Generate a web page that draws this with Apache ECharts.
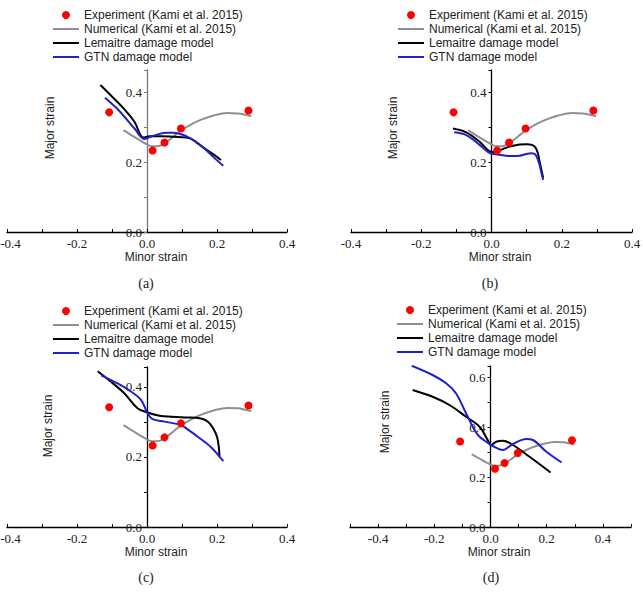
<!DOCTYPE html>
<html>
<head>
<meta charset="utf-8">
<script src="https://cdn.jsdelivr.net/npm/echarts@6/dist/echarts.min.js"></script>
<style>
  html, body { margin: 0; padding: 0; background: #fff; }
  #main { width: 643px; height: 592px; }
</style>
</head>
<body>
<div id="main"></div>
<script>
// series names (legend)
let seriesNames = [
    "Experiment (Kami et al. 2015)",
    "Numerical (Kami et al. 2015)",
    "Lemaitre damage model",
    "GTN damage model"
];
let panelLabels = ["(a)", "(b)", "(c)", "(d)"];

// experiment points (same in all panels)
let experiment = [[-0.108, 0.342], [0.016, 0.233], [0.05, 0.256], [0.097, 0.296], [0.29, 0.347]];

// numerical curve from Kami et al. (same in all panels)
let numerical = [
    [-0.067, 0.291], [-0.045, 0.277], [-0.027, 0.266], [-0.005, 0.253], [0.016, 0.245],
    [0.035, 0.246], [0.055, 0.257], [0.078, 0.275], [0.097, 0.29], [0.125, 0.307],
    [0.155, 0.321], [0.19, 0.333], [0.23, 0.34], [0.26, 0.339], [0.28, 0.335], [0.298, 0.331]
];

// (a)
let lemaitreA = [
    [-0.133, 0.42], [-0.103, 0.39], [-0.065, 0.351], [-0.036, 0.315], [-0.01, 0.27],
    [0.007, 0.274], [0.04, 0.274], [0.078, 0.272], [0.11, 0.27], [0.125, 0.267],
    [0.14, 0.257], [0.164, 0.239], [0.19, 0.222], [0.211, 0.206]
];
let gtnA = [
    [-0.12, 0.384], [-0.09, 0.357], [-0.065, 0.33], [-0.035, 0.295], [-0.008, 0.266],
    [0.01, 0.272], [0.031, 0.279], [0.055, 0.284], [0.075, 0.284], [0.095, 0.28],
    [0.116, 0.272], [0.14, 0.258], [0.164, 0.239], [0.19, 0.214], [0.218, 0.189]
];
// (b)
let lemaitreB = [
    [-0.11, 0.296], [-0.072, 0.285], [-0.034, 0.258], [-0.006, 0.231], [0.009, 0.228],
    [0.03, 0.236], [0.051, 0.244], [0.08, 0.25], [0.1, 0.251], [0.115, 0.249],
    [0.125, 0.242], [0.132, 0.225], [0.137, 0.201], [0.142, 0.178], [0.147, 0.155]
];
let gtnB = [
    [-0.106, 0.285], [-0.072, 0.277], [-0.034, 0.249], [-0.006, 0.226], [0.02, 0.221],
    [0.042, 0.218], [0.06, 0.217], [0.08, 0.218], [0.1, 0.223], [0.113, 0.225],
    [0.124, 0.222], [0.131, 0.21], [0.137, 0.191], [0.142, 0.17], [0.147, 0.149]
];
// (c)
let lemaitreC = [
    [-0.141, 0.445], [-0.103, 0.415], [-0.065, 0.382], [-0.027, 0.339], [0.002, 0.327],
    [0.04, 0.317], [0.107, 0.313], [0.154, 0.31], [0.175, 0.3], [0.19, 0.28],
    [0.2, 0.258], [0.205, 0.23], [0.207, 0.201]
];
let gtnC = [
    [-0.131, 0.433], [-0.084, 0.41], [-0.046, 0.387], [-0.017, 0.363], [0.002, 0.324],
    [0.016, 0.308], [0.05, 0.301], [0.097, 0.291], [0.12, 0.276], [0.145, 0.258],
    [0.183, 0.228], [0.218, 0.188]
];
// (d)
let lemaitreD = [
    [-0.277, 0.548], [-0.206, 0.521], [-0.146, 0.488], [-0.087, 0.441], [-0.039, 0.401],
    [-0.01, 0.348], [0.002, 0.328], [0.02, 0.341], [0.044, 0.345], [0.08, 0.328],
    [0.139, 0.281], [0.214, 0.218]
];
let gtnD = [
    [-0.28, 0.645], [-0.206, 0.608], [-0.158, 0.575], [-0.123, 0.535], [-0.087, 0.455],
    [-0.057, 0.388], [-0.039, 0.361], [-0.015, 0.341], [0.008, 0.324], [0.044, 0.308],
    [0.08, 0.332], [0.127, 0.352], [0.151, 0.348], [0.199, 0.301], [0.253, 0.258]
];

let lemaitreData = [lemaitreA, lemaitreB, lemaitreC, lemaitreD];
let gtnData = [gtnA, gtnB, gtnC, gtnD];

// axis ranges per panel
let xMin = [-0.4, -0.4, -0.4, -0.5];
let xMax = [0.4, 0.4, 0.4, 0.5];
let yMax = [0.463, 0.463, 0.457, 0.644];

// layout per panel
let grids = [
    {left: 7, top: 70, width: 280, height: 162, outerBoundsMode: "none"},
    {left: 351, top: 70, width: 281, height: 162, outerBoundsMode: "none"},
    {left: 7, top: 367, width: 280, height: 160, outerBoundsMode: "none"},
    {left: 350, top: 366, width: 281, height: 161, outerBoundsMode: "none"}
];
let legendPos = [[53, 9], [398, 9], [53, 305], [397, 304]];
let majorPos = [[50, 128], [393, 128], [48, 426], [385, 422]];
let minorPos = [[156, 257], [500, 257], [156, 552], [499, 552]];
let captionPos = [[146, 283], [490, 283], [146, 577], [491, 577]];

let colors = ["#ff0000", "#8f8f8f", "#000000", "#1f1fcc"];
let serif = "Liberation Serif";
let sans = "Liberation Sans";
let lineIcon = "path://M0,0H26V2H0Z";

function tickLabel(v) {
    let t = v * 10;
    if (Math.abs(t - Math.round(t)) > 1e-6) return "";
    return Math.round(t) % 2 === 0 ? v.toFixed(1) : "";
}

let myChart = echarts.init(document.getElementById("main"), null, {renderer: "svg"});
let option = {
    animation: false,
    grid: grids,
    xAxis: [],
    yAxis: [],
    legend: [],
    series: [],
    graphic: []
};

grids.forEach((g, i) => {
    // x = 0 position inside the grid, used to put the y axis there
    let zeroOffset = g.width * (0 - xMin[i]) / (xMax[i] - xMin[i]);
    let edgeLabel = g.left < 15;
    option.xAxis.push({
        type: "value",
        gridIndex: i,
        min: xMin[i],
        max: xMax[i],
        interval: 0.1,
        axisLine: {show: true, onZero: false, lineStyle: {color: "#000", width: 1.3}},
        axisTick: {show: true, inside: true, length: 3, lineStyle: {color: "#000"}},
        axisLabel: {
            margin: 5,
            formatter: (v) => {
                let s = tickLabel(v);
                // keep the leftmost label inside the page
                if (s && edgeLabel && Math.abs(v - xMin[i]) < 1e-6) return "{edge|" + s + "}";
                return s;
            },
            fontFamily: serif, fontSize: 13, color: "#222",
            rich: {edge: {fontFamily: serif, fontSize: 13, color: "#222", padding: [0, 0, 0, 7]}}
        },
        splitLine: {show: false}
    });
    let yColor = i === 0 ? "#777" : "#000";
    option.yAxis.push({
        type: "value",
        gridIndex: i,
        min: 0,
        max: yMax[i],
        interval: 0.1,
        offset: -zeroOffset,
        axisLine: {show: true, onZero: false, lineStyle: {color: yColor, width: 1.3}},
        axisTick: {show: true, inside: false, length: 3, lineStyle: {color: yColor}},
        axisLabel: {margin: 5, formatter: tickLabel, fontFamily: serif, fontSize: 13, color: "#222"},
        splitLine: {show: false}
    });
    option.legend.push({
        left: legendPos[i][0],
        top: legendPos[i][1],
        orient: "vertical",
        itemWidth: 26,
        itemHeight: 8,
        itemGap: 2,
        padding: 0,
        textStyle: {fontFamily: sans, fontSize: 12, color: "#222"},
        data: [
            {name: seriesNames[0], icon: "circle"},
            {name: seriesNames[1], icon: lineIcon},
            {name: seriesNames[2], icon: lineIcon},
            {name: seriesNames[3], icon: lineIcon}
        ]
    });

    option.series.push({
        name: seriesNames[0], type: "scatter", xAxisIndex: i, yAxisIndex: i,
        data: experiment, symbolSize: 8, itemStyle: {color: colors[0], opacity: 1}, z: 5
    });
    option.series.push({
        name: seriesNames[1], type: "line", xAxisIndex: i, yAxisIndex: i,
        data: numerical, smooth: 0.35, symbol: "none",
        lineStyle: {color: colors[1], width: 2}, itemStyle: {color: colors[1]}
    });
    option.series.push({
        name: seriesNames[2], type: "line", xAxisIndex: i, yAxisIndex: i,
        data: lemaitreData[i], smooth: 0.35, symbol: "none",
        lineStyle: {color: colors[2], width: 2}, itemStyle: {color: colors[2]}
    });
    option.series.push({
        name: seriesNames[3], type: "line", xAxisIndex: i, yAxisIndex: i,
        data: gtnData[i], smooth: 0.35, symbol: "none",
        lineStyle: {color: colors[3], width: 2}, itemStyle: {color: colors[3]}
    });

    // axis titles and panel captions
    option.graphic.push({
        type: "text", x: majorPos[i][0], y: majorPos[i][1], rotation: Math.PI / 2,
        style: {text: "Major strain", font: "12px " + sans, fill: "#222", textAlign: "center", textVerticalAlign: "middle"}
    });
    option.graphic.push({
        type: "text", x: minorPos[i][0], y: minorPos[i][1],
        style: {text: "Minor strain", font: "12px " + sans, fill: "#222", textAlign: "center", textVerticalAlign: "middle"}
    });
    option.graphic.push({
        type: "text", x: captionPos[i][0], y: captionPos[i][1],
        style: {text: panelLabels[i], font: "14px " + serif, fill: "#222", textAlign: "center", textVerticalAlign: "middle"}
    });
});

option && myChart.setOption(option);
</script>
</body>
</html>
